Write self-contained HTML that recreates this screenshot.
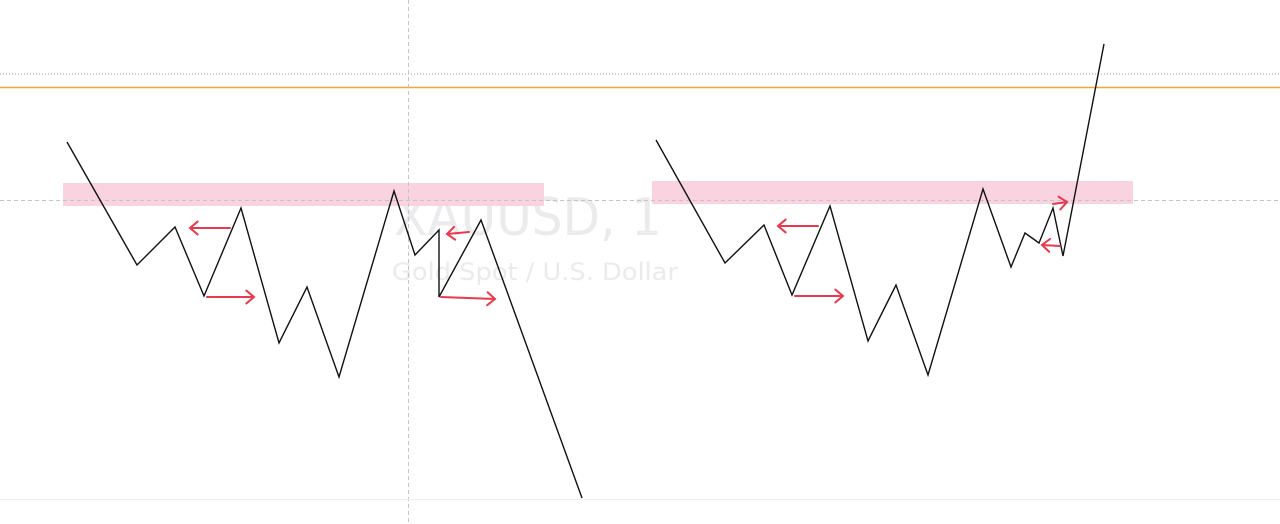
<!DOCTYPE html>
<html><head><meta charset="utf-8"><style>
html,body{margin:0;padding:0;background:#fff;}
svg{display:block;font-family:"DejaVu Sans","Liberation Sans",sans-serif;}
</style></head><body>
<svg id="c" width="1280" height="524" viewBox="0 0 1280 524">
<text x="394" y="235" font-size="52" fill="#ebebee" textLength="268" lengthAdjust="spacingAndGlyphs">XAUUSD, 1</text>
<text x="392" y="280" font-size="24" fill="#ebebee" textLength="286" lengthAdjust="spacingAndGlyphs">Gold Spot / U.S. Dollar</text>
<rect x="63" y="183" width="481" height="23" fill="#f9d3e0"/>
<rect x="652" y="181" width="481" height="23" fill="#f9d3e0"/>
<line x1="0" y1="74" x2="1280" y2="74" stroke="#999" stroke-dasharray="1,2"/>
<line x1="0" y1="87.5" x2="1280" y2="87.5" stroke="#f0a830" stroke-width="1.5"/>
<line x1="408.5" y1="0" x2="408.5" y2="524" stroke="#c4c4c8" stroke-dasharray="4,3"/>
<line x1="0" y1="200.5" x2="1280" y2="200.5" stroke="#c4c4c8" stroke-dasharray="4,3"/>
<line x1="0" y1="499.5" x2="1280" y2="499.5" stroke="#eee"/>
<g id="paths"></g>
<g id="arrows"></g>
</svg>
<script>
const leftX=[67,137,175,204,241,279,307,339,394,415,439,439,481,582];
const leftY=[142,265,227,296,208,343,287,377,191,255,230,297,220,498];
const rightX=[656,725,764,792,830,868,896,928,983,1011,1025,1039,1053,1063,1104];
const rightY=[140,263,225,295,206,341,285,375,189,267,233,243,208,256,44];
const arrowX1=[230,207,469,441,818,795,1053,1060];
const arrowY1=[228,297,232,297,226,296,204,246];
const arrowX2=[190,254,447,495,778,843,1067,1042];
const arrowY2=[228,297,234,299,226,296,202,245];
const NS='http://www.w3.org/2000/svg';
function poly(xs,ys,name){
  const p=document.createElementNS(NS,'polyline');
  p.setAttribute('points',xs.map((x,i)=>x+','+ys[i]).join(' '));
  p.setAttribute('fill','none');p.setAttribute('stroke','#111');p.setAttribute('stroke-width','1.4');
  
  
  document.getElementById('paths').appendChild(p);
}
poly(leftX,leftY,'price-path-left');
poly(rightX,rightY,'price-path-right');
for(let i=0;i<arrowX1.length;i++){
  const x1=arrowX1[i],y1=arrowY1[i],x2=arrowX2[i],y2=arrowY2[i];
  const a=Math.atan2(y2-y1,x2-x1),h=10;
  const g=document.createElementNS(NS,'path');
  const d='M'+x1+','+y1+'L'+x2+','+y2+
    'M'+(x2-h*Math.cos(a-0.7))+','+(y2-h*Math.sin(a-0.7))+'L'+x2+','+y2+
    'L'+(x2-h*Math.cos(a+0.7))+','+(y2-h*Math.sin(a+0.7));
  g.setAttribute('d',d);g.setAttribute('fill','none');g.setAttribute('stroke','#e8394d');
  g.setAttribute('stroke-width','2');g.setAttribute('stroke-linecap','round');
  
  
  document.getElementById('arrows').appendChild(g);
}
</script>
</body></html>
